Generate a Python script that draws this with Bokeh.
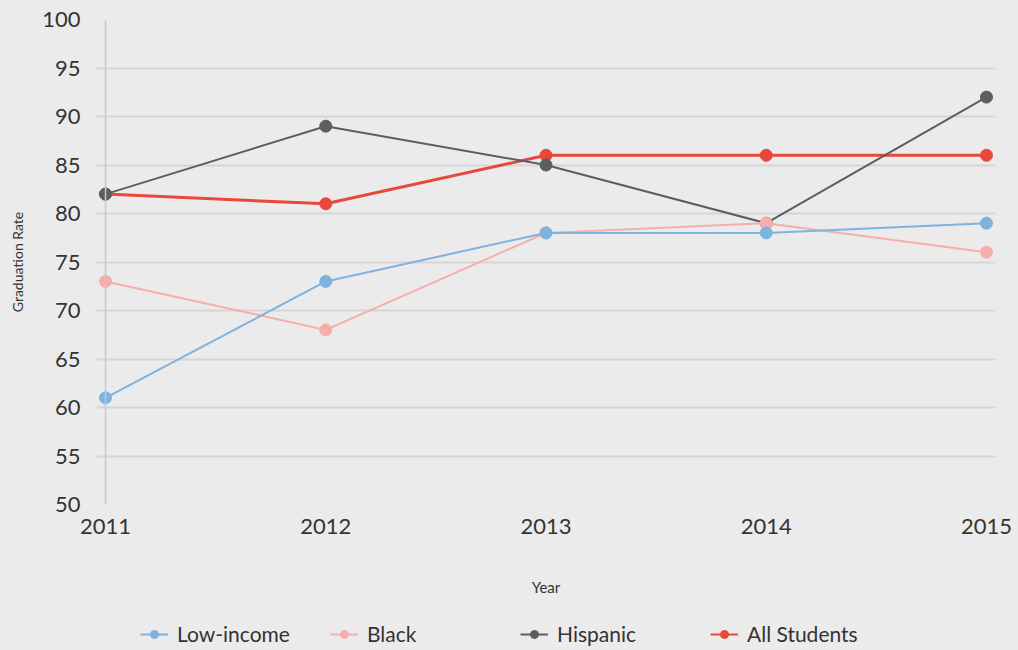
from bokeh.plotting import figure
from bokeh.models import Legend, LegendItem, FixedTicker, Span
from bokeh.layouts import column
from bokeh.embed import file_html
from bokeh.resources import INLINE

years = [2011, 2012, 2013, 2014, 2015]
low_income = [61, 73, 78, 78, 79]
black = [73, 68, 78, 79, 76]
hispanic = [82, 89, 85, 79, 92]
all_students = [82, 81, 86, 86, 86]
y_ticks = [50, 55, 60, 65, 70, 75, 80, 85, 90, 95, 100]

FONT = "Lato"
BG = "#EBEBEB"
TXT = "#333333"

p = figure(frame_width=899, frame_height=485, output_backend="svg", toolbar_location=None,
           x_range=(2010.9591, 2015.0409), y_range=(50, 100),
           min_border_left=96, min_border_right=23, min_border_top=19,
           min_border_bottom=108)
p.background_fill_color = BG
p.border_fill_color = BG
p.outline_line_color = None

p.xgrid.visible = False
p.ygrid.grid_line_color = "#D5D5D5"
p.ygrid.grid_line_width = 2
p.yaxis.ticker = FixedTicker(ticks=y_ticks)
p.xaxis.ticker = FixedTicker(ticks=years)

for ax in (p.xaxis[0], p.yaxis[0]):
    ax.axis_line_color = None
    ax.major_tick_line_color = None
    ax.minor_tick_line_color = None
    ax.major_label_text_font = FONT
    ax.major_label_text_font_size = "22px"
    ax.major_label_text_color = TXT
    ax.axis_label_text_font = FONT
    ax.axis_label_text_font_style = "normal"
    ax.axis_label_text_color = TXT

p.xaxis.major_label_standoff = 8
p.yaxis.major_label_standoff = 10
p.xaxis.axis_label = "Year"
p.xaxis.axis_label_text_font_size = "15px"
p.xaxis.axis_label_standoff = 41
p.yaxis.axis_label = "Graduation Rate"
p.yaxis.axis_label_text_font_size = "14px"
p.yaxis.axis_label_standoff = 13

p.add_layout(Span(location=2011, dimension="height", line_color="#C8C8C8", line_width=1.5))

series = [
    ("All Students", all_students, "#E8473A", 3),
    ("Hispanic", hispanic, "#5B5E60", 2),
    ("Black", black, "#F4AEAC", 2),
    ("Low-income", low_income, "#7EB3E0", 2),
]
for name, vals, col, lw in series:
    p.line(years, vals, line_color=col, line_width=lw)
    p.scatter(years, vals, size=12, fill_color=col, line_color=col)

# legend strip below the chart (its data ranges keep the series out of view)
q = figure(width=1018, height=38, output_backend="svg", toolbar_location=None,
           min_border=0, x_range=(0, 1), y_range=(0, 1))
q.background_fill_alpha = 0
q.border_fill_color = BG
q.outline_line_color = None
q.axis.visible = False
q.grid.visible = False

items = []
for name, vals, col, lw in reversed(series):
    l = q.line(years, vals, line_color=col, line_width=2)
    s = q.scatter(years, vals, size=11, fill_color=col, line_color=col)
    items.append(LegendItem(label=name, renderers=[l, s]))

legend = Legend(items=items, orientation="horizontal", location=(42, 2),
                glyph_width=28, glyph_height=20, label_standoff=9, label_width=153,
                label_height=20, spacing=0, padding=2, margin=0,
                label_text_font=FONT, label_text_font_size="21px", label_text_color=TXT,
                background_fill_alpha=0, border_line_alpha=0)
q.add_layout(legend, "center")

layout = column(p, q, spacing=0, styles={"background-color": BG})
open("out.html", "w").write(file_html(layout, INLINE))
